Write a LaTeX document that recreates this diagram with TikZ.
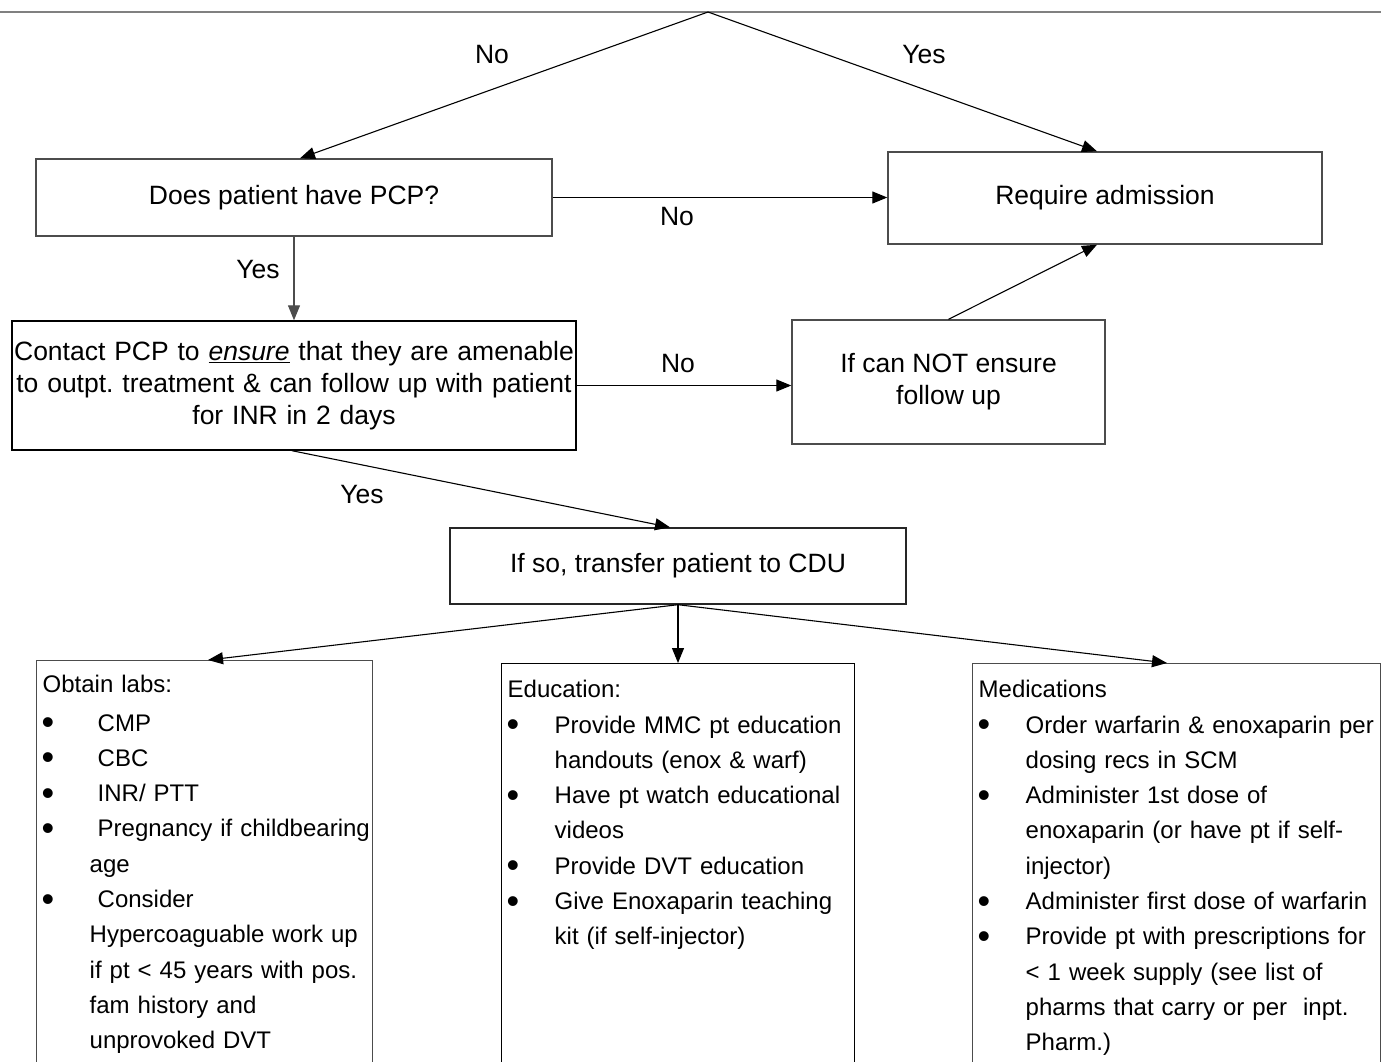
\documentclass[tikz,border=0pt]{standalone}
\usepackage{fontspec}
\setmainfont{Liberation Sans}
\usetikzlibrary{arrows.meta,calc}
\frenchspacing
\newcommand\bigf{\fontsize{26.5}{32}\selectfont\frenchspacing}
\newcommand\smallf{\fontsize{24}{35.3}\selectfont\frenchspacing}
\newcommand\bul{\makebox[47pt][l]{\hspace{-1pt}\raisebox{-3.5pt}{\fontsize{36}{36}\selectfont\textbullet}}}
\newcommand\bitem[1]{\par\hangindent=47pt\hangafter=1\noindent\bul#1}
\newcommand\nl{\hfil\break}
\begin{document}
\begin{tikzpicture}[x=1pt,y=-1pt,
  fbox/.style={draw=#1, line width=1.4pt, rectangle, inner sep=0pt, align=center, font=\bigf},
  fbox/.default=black!70,
  lbox/.style={draw=#1, line width=1.4pt, rectangle, anchor=north west, inner xsep=6pt, inner ysep=0pt, align=left, font=\smallf},
  lbox/.default=black!70,
  arr/.style={-{Triangle[length=15pt,width=12pt]}, line width=1.1pt},
  lab/.style={font=\bigf, inner sep=0pt}]
\useasboundingbox (0,0) rectangle (1381,1061);
\fill[white] (0,0) rectangle (1381,1061);
\clip (0,0) rectangle (1381,1061);

% top rule
\coordinate (tl) at (0,12);
\coordinate (tr) at (1381,12);
\coordinate (apex) at (708,12);
\draw[black!50, line width=2.6pt] (tl) -- (tr);

% main boxes
\node[fbox, minimum width=516pt, minimum height=77pt] (pcp) at (294,197.5) {Does patient have PCP?};
\node[fbox, minimum width=434pt, minimum height=92pt] (req) at (1105,198) {Require admission};
\node[fbox=black, minimum width=564pt, minimum height=129pt, text width=560pt] (contact) at (294,385.5)
  {Contact PCP to \underline{\textit{ensure}} that they are amenable\\to outpt. treatment \& can follow up with patient\\for INR in 2 days};
\node[fbox, minimum width=313pt, minimum height=124pt] (ifnot) at (948.5,382) {If can NOT ensure\\follow up};
\node[fbox=black!85, minimum width=456pt, minimum height=76pt] (cdu) at (678,566) {If so, transfer patient to CDU};

% list boxes
\node[lbox, text width=324pt, text height=32pt, text depth=383pt] (labs) at (36,660) {%
\noindent Obtain labs:\par\vspace{3pt}%
\bitem{\ CMP}%
\bitem{\ CBC}%
\bitem{\ INR/ PTT}%
\bitem{\makebox[260pt][l]{\ Pregnancy if childbearing}\nl age}%
\bitem{\ Consider\nl Hypercoaguable work up\nl if pt < 45 years with pos.\nl fam history and\nl unprovoked DVT}\par};
\node[lbox=black, text width=341pt, text height=34pt, text depth=378pt] (edu) at (501,663) {%
\noindent Education:%
\bitem{Provide MMC pt education\nl handouts (enox \& warf)}%
\bitem{Have pt watch educational\nl videos}%
\bitem{Provide DVT education}%
\bitem{Give Enoxaparin teaching\nl kit (if self-injector)}\par};
\node[lbox, text width=396pt, text height=34pt, text depth=378pt] (med) at (972,663) {%
\noindent Medications%
\bitem{Order warfarin \& enoxaparin per\nl dosing recs in SCM}%
\bitem{Administer 1st dose of\nl enoxaparin (or have pt if self-\nl injector)}%
\bitem{Administer first dose of warfarin}%
\bitem{Provide pt with prescriptions for\nl < 1 week supply (see list of\nl pharms that carry or per\ \ inpt.\nl Pharm.)}\par};

% connectors
\draw[arr] (apex) -- ($(pcp.north)+(6,0)$);
\draw[arr] (apex) -- ($(req.north)+(-8,0)$);
\draw[arr] (pcp.east) -- (pcp.east -| req.west);
\draw[arr, black!70] (pcp.south) -- (contact.north);
\draw[arr] (contact.east) -- (contact.east -| ifnot.west);
\draw[arr] (ifnot.north) -- ($(req.south)+(-8,0)$);
\draw[arr] ($(contact.south)+(-2,0)$) -- ($(cdu.north)+(-8,0)$);
\draw[arr] (cdu.south) -- ($(labs.north west)+(172,0)$);
\draw[arr] (cdu.south) -- ($(edu.north west)+(177,0)$);
\draw[arr] (cdu.south) -- ($(med.north west)+(195,0)$);

% labels
\node[lab] (l1) at (492,55) {No};
\node[lab] (l2) at (924,55) {Yes};
\node[lab] (l3) at (677,217) {No};
\node[lab] (l4) at (258,270) {Yes};
\node[lab] (l5) at (678,364) {No};
\node[lab] (l6) at (362,495) {Yes};
\end{tikzpicture}
\end{document}
